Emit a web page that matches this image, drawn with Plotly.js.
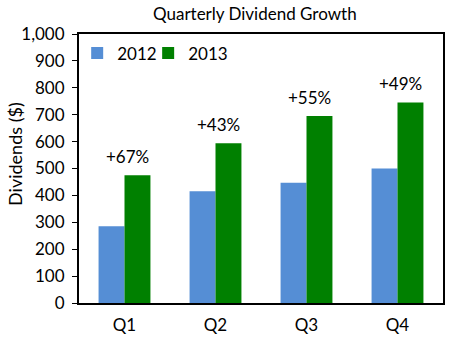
<!DOCTYPE html>
<html><head><meta charset="utf-8">
<script src="https://cdn.plot.ly/plotly-3.0.1.min.js"></script>
<style>html,body{margin:0;padding:0;background:#fff}#chart{width:451px;height:341px}</style>
</head><body><div id="chart"></div>
<script>
const quarters = ['Q1','Q2','Q3','Q4'];
const div2012 = [285, 415, 447, 500];
const div2013 = [475, 594, 695, 745];
const growthLabels = ['+67%','+43%','+55%','+49%'];
const yTickVals = [0,100,200,300,400,500,600,700,800,900,1000];
const yTickText = ['0','100','200','300','400','500','600','700','800','900','1,000'];
const yTitle = 'Dividends ($)';

const font = 'Lato, "Open Sans", sans-serif';
const traces = [
  {type:'bar', name:'2012', x:quarters, y:div2012, marker:{color:'#558ED5'}, legend:'legend'},
  {type:'bar', name:'2013', x:quarters, y:div2013, marker:{color:'#008000'}, legend:'legend2'}
];
const annotations = quarters.map((q,i)=>({
  x:q, y:div2013[i], text:growthLabels[i], showarrow:false,
  yshift:19, xshift:3, font:{size:17, color:'#000', family:font}
}));
annotations.push({xref:'paper', yref:'paper', x:-0.176, y:0.554, xanchor:'center', yanchor:'middle',
  text:yTitle, textangle:-90, showarrow:false, font:{size:18, color:'#000', family:font}});
const legendBase = {orientation:'h', y:0.995, xanchor:'left', yanchor:'top', bgcolor:'rgba(0,0,0,0)', font:{size:17, family:font}};
const layout = {
  width:451, height:341,
  margin:{l:79, r:8, t:34, b:38},
  paper_bgcolor:'#fff', plot_bgcolor:'#fff',
  font:{family:font, size:17, color:'#000'},
  title:{text:'Quarterly Dividend Growth', x:0.565, xanchor:'center', y:0.958, yanchor:'middle', font:{size:17, family:font, color:'#000'}},
  barmode:'group', bargap:0.43, bargroupgap:0,
  showlegend:true,
  legend:Object.assign({x:-0.005}, legendBase),
  legend2:Object.assign({x:0.19}, legendBase),
  xaxis:{showline:true, linecolor:'#000', linewidth:2, mirror:true, ticks:'outside', ticklen:6, tickcolor:'rgba(0,0,0,0)', showgrid:false, tickfont:{size:17}},
  yaxis:{range:[0,1000], tickvals:yTickVals, ticktext:yTickText, showline:true, linecolor:'#000', linewidth:2, mirror:true,
         ticks:'outside', ticklen:5, tickcolor:'#000', tickwidth:1, ticklabelstandoff:4, showgrid:false, zeroline:false, tickfont:{size:17}},
  annotations:annotations
};
Plotly.newPlot('chart', traces, layout, {displayModeBar:false, staticPlot:true});
</script></body></html>
